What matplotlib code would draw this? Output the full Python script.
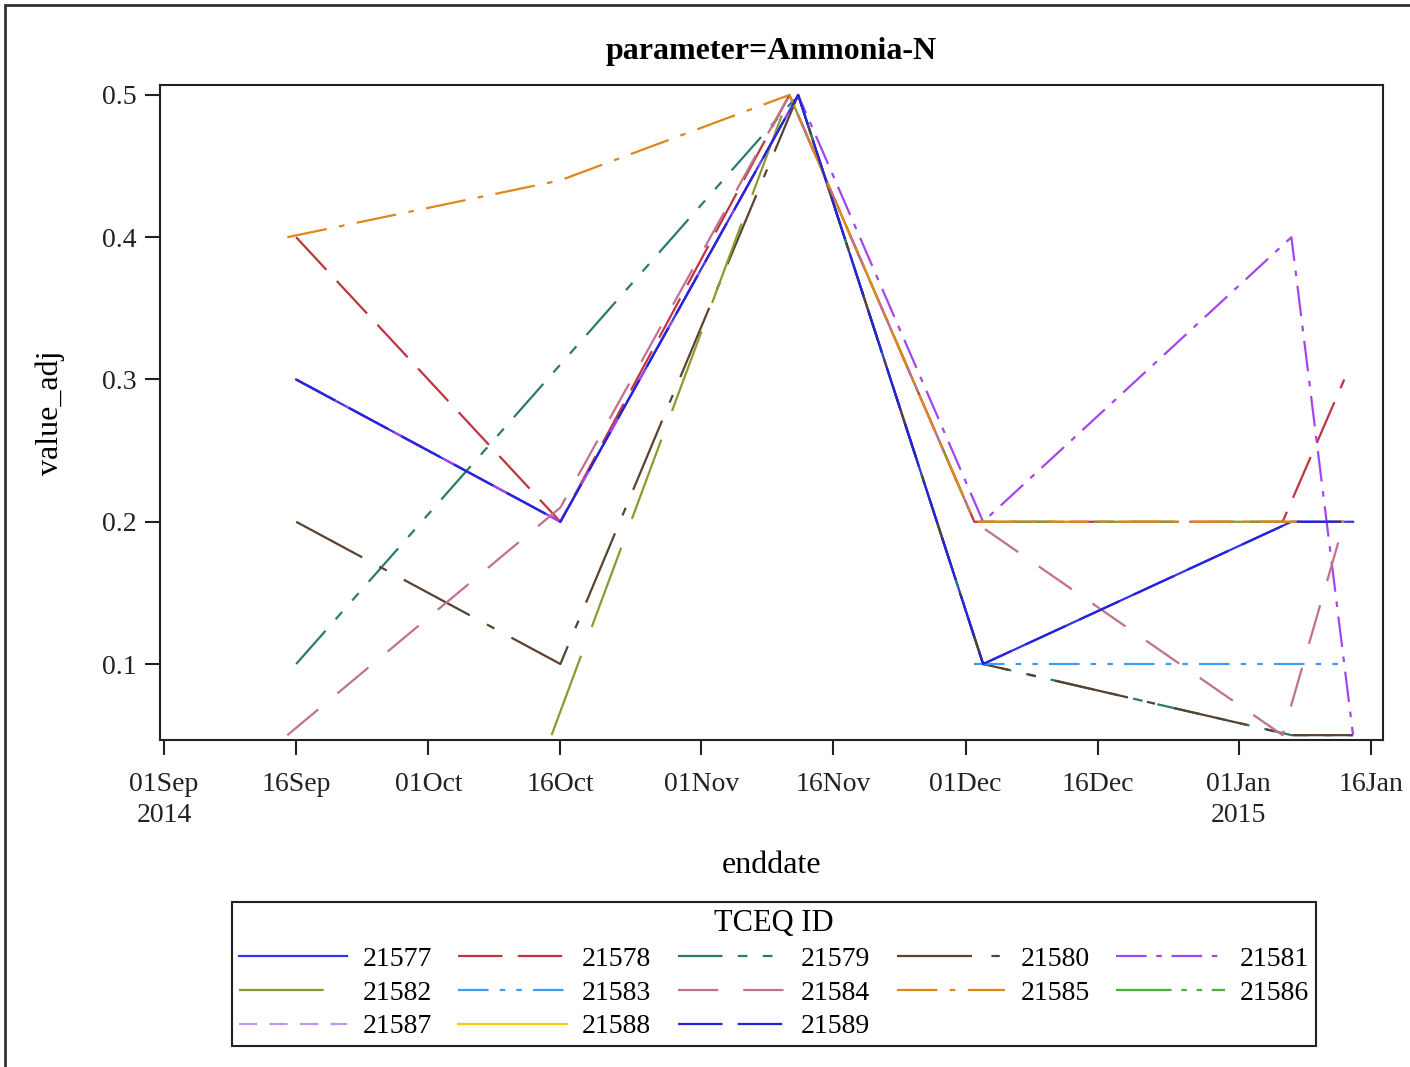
import matplotlib
matplotlib.use('Agg')
import matplotlib.pyplot as plt
import pandas as pd
from matplotlib.patches import Rectangle

# station ids shown in the legend
station_ids = ['21577', '21578', '21579', '21580', '21581', '21582', '21583',
               '21584', '21585', '21586', '21587', '21588', '21589']

# sample dates and adjusted values per station
d_21577 = ['2014-09-16', '2014-10-16', '2014-11-12', '2014-12-03', '2015-01-07', '2015-01-14']
v_21577 = [0.3, 0.2, 0.5, 0.1, 0.2, 0.2]
d_21578 = ['2014-09-16', '2014-10-16', '2014-11-11', '2014-12-02', '2015-01-06', '2015-01-13']
v_21578 = [0.4, 0.2, 0.5, 0.2, 0.2, 0.3]
d_21579 = ['2014-09-16', '2014-11-12', '2014-12-03', '2015-01-07', '2015-01-14']
v_21579 = [0.1, 0.5, 0.1, 0.05, 0.05]
d_21580 = ['2014-09-16', '2014-10-16', '2014-11-12', '2014-12-03', '2015-01-07', '2015-01-14']
v_21580 = [0.2, 0.1, 0.5, 0.1, 0.05, 0.05]
d_21581 = ['2014-09-16', '2014-10-16', '2014-11-12', '2014-12-03', '2015-01-07', '2015-01-14']
v_21581 = [0.3, 0.2, 0.5, 0.2, 0.4, 0.05]
d_21582 = ['2014-10-15', '2014-11-11', '2014-12-02', '2015-01-06', '2015-01-13']
v_21582 = [0.05, 0.5, 0.2, 0.2, 0.2]
d_21583 = ['2014-12-02', '2015-01-13']
v_21583 = [0.1, 0.1]
d_21584 = ['2014-09-15', '2014-10-16', '2014-11-11', '2014-12-02', '2015-01-06', '2015-01-13']
v_21584 = [0.05, 0.21, 0.5, 0.2, 0.05, 0.2]
d_21585 = ['2014-09-15', '2014-10-16', '2014-11-11', '2014-12-02', '2015-01-06', '2015-01-13']
v_21585 = [0.4, 0.44, 0.5, 0.2, 0.2, 0.2]
d_21586 = []
v_21586 = []
d_21587 = []
v_21587 = []
d_21588 = []
v_21588 = []
d_21589 = ['2014-09-16', '2014-10-16', '2014-11-12', '2014-12-03', '2015-01-07', '2015-01-14']
v_21589 = [0.3, 0.2, 0.5, 0.1, 0.2, 0.2]

all_dates = [d_21577, d_21578, d_21579, d_21580, d_21581, d_21582, d_21583,
             d_21584, d_21585, d_21586, d_21587, d_21588, d_21589]
all_values = [v_21577, v_21578, v_21579, v_21580, v_21581, v_21582, v_21583,
              v_21584, v_21585, v_21586, v_21587, v_21588, v_21589]

colors = ['#3535E6', '#C0343E', '#2B7A6E', '#5A4230', '#A346F0', '#8B9A2E', '#3A9CF7',
          '#C07090', '#E0861A', '#4CAF3C', '#BC96F5', '#F2CE00', '#2424DD']
dashes = ['-', (0, (32, 11)), (0, (32, 11, 7, 11, 7, 11)), (0, (54, 14, 6, 14)),
          (0, (22, 7, 4, 7)), (0, (61, 22)), (0, (22, 8, 4, 8, 4, 8)), (0, (29, 18)),
          (0, (29, 9, 4, 9)), (0, (40, 7, 4, 7, 4, 7)), (0, (13, 9)), '-', (0, (32, 11))]

y_ticks = [0.1, 0.2, 0.3, 0.4, 0.5]
x_ticks = ['2014-09-01', '2014-09-16', '2014-10-01', '2014-10-16', '2014-11-01',
           '2014-11-16', '2014-12-01', '2014-12-16', '2015-01-01', '2015-01-16']
x_tick_labels = ['01Sep\n2014', '16Sep', '01Oct', '16Oct', '01Nov', '16Nov',
                 '01Dec', '16Dec', '01Jan\n2015', '16Jan']

plt.rcParams['font.family'] = ['Liberation Serif', 'DejaVu Serif']
plt.rcParams['lines.scale_dashes'] = False

fig = plt.figure(figsize=(14.1, 10.67), dpi=100)
ax = fig.add_axes([160 / 1410, 1 - 740 / 1067, 1223 / 1410, 655 / 1067])

lines = []
for sid, d, v, c, ls in zip(station_ids, all_dates, all_values, colors, dashes):
    ln, = ax.plot(pd.to_datetime(d), v, color=c, linestyle=ls, linewidth=1.6, label=sid)
    lines.append(ln)

start = pd.Timestamp('2014-09-01')
ax.set_xlim(start - pd.Timedelta(hours=11), start + pd.Timedelta(days=138.4))
ax.set_ylim(0.0466, 0.507)
ax.set_yticks(y_ticks)
ax.set_yticklabels([f'{t:.1f}' for t in y_ticks])
ax.set_xticks(pd.to_datetime(x_ticks))
ax.set_xticklabels(x_tick_labels, linespacing=1.3)
ax.tick_params(axis='both', direction='out', length=11, width=1.5, labelsize=20,
               colors='#222222')
ax.tick_params(axis='x', pad=12)
ax.tick_params(axis='y', pad=6)
for s in ax.spines.values():
    s.set_linewidth(1.5)
    s.set_color('#222222')

ax.set_xlabel('enddate', fontsize=23)
ax.xaxis.set_label_coords(0.5, -0.17)
ax.set_ylabel('value_adj', fontsize=23)
ax.yaxis.set_label_coords(-0.078, 0.5)

fig.text(771 / 1410, 1 - 51 / 1067, 'parameter=Ammonia-N', ha='center', va='center',
         fontsize=23, fontweight='bold')

# legend reads across rows, matplotlib fills down columns
order = [0, 5, 10, 1, 6, 11, 2, 7, 12, 3, 8, 4, 9]
leg = fig.legend([lines[i] for i in order], [station_ids[i] for i in order],
                 loc='upper left', bbox_to_anchor=(232 / 1410, 1 - 1045 / 1067, 1084 / 1410, 143 / 1067),
                 mode='expand', borderaxespad=0, ncol=5, fontsize=20, title='TCEQ ID',
                 title_fontsize=22, handlelength=3.9, handletextpad=0.55, labelspacing=0.3,
                 borderpad=0.25, fancybox=False, framealpha=1, edgecolor='#222222')
leg.get_frame().set_linewidth(1.5)

# outer border of the page
fig.patches.append(Rectangle((5 / 1410, -0.05), 1.2, 1.05 - 5 / 1067, transform=fig.transFigure,
                             fill=False, edgecolor='#333333', linewidth=2))

fig.savefig('out.png', dpi=100)
